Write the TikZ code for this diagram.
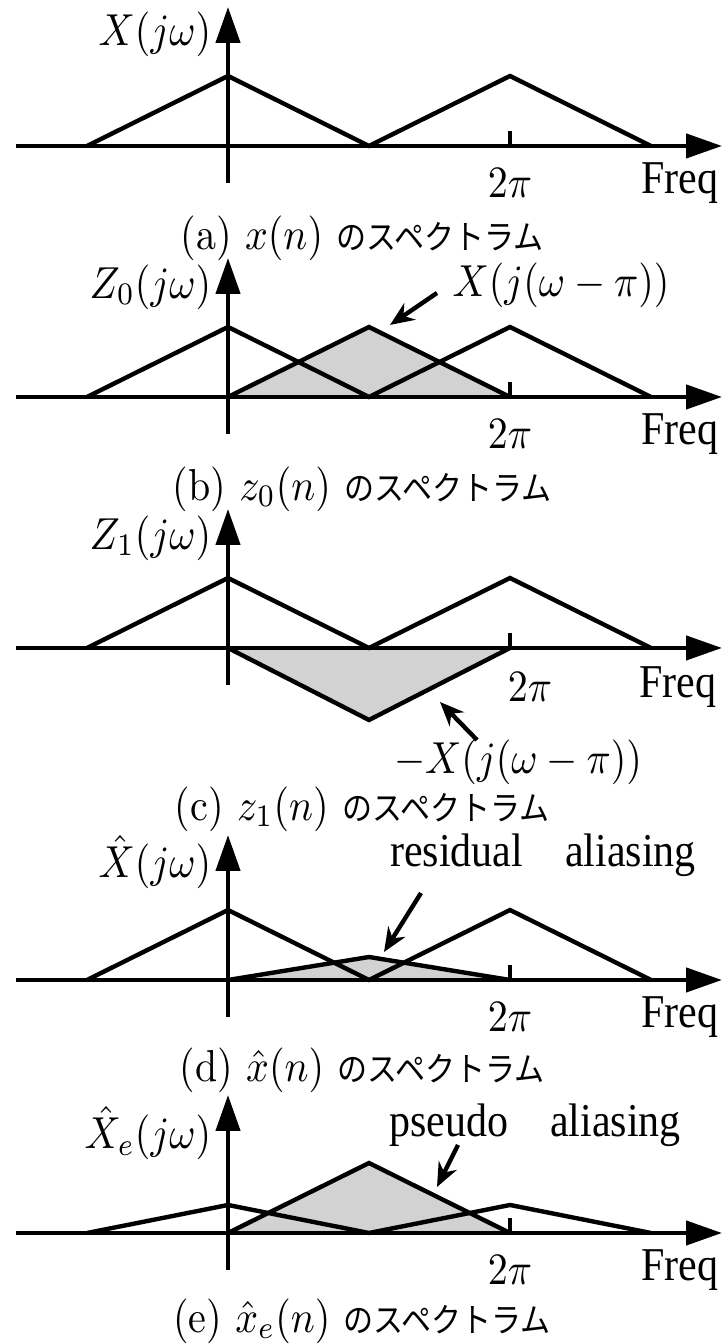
\documentclass[tikz,border=0pt]{standalone}
\usepackage{fontspec}
\usepackage{tikz}
\usetikzlibrary{arrows.meta}

\newfontfamily\timesfont{Liberation Serif}
\newfontfamily\jpfont{Noto Sans CJK JP}
\newcommand{\jp}[1]{{\jpfont\fontsize{7.5}{9}\selectfont #1}}

\begin{document}
\begin{tikzpicture}[x=0.25pt, y=0.25pt,
    curve/.style={line width=1.1pt, line join=miter},
    axis/.style={line width=1.1pt, -{Triangle[length=9pt, width=6pt]}},
    shade/.style={fill=gray!35},
    arr/.style={line width=1.1pt, -{Stealth[length=6pt, width=5pt]}},
    tall/.style={yscale=1.12},
    mlbl/.style={tall},
    ylbl/.style={tall, anchor=east, inner sep=0pt},
    lbl/.style={tall, font=\timesfont\fontsize{10.5}{12}\selectfont, inner sep=0pt},
    captext/.style={tall, inner sep=0pt},
  ]
  \useasboundingbox (0,0) rectangle (726,1344);

  % (a) spectrum of x(n)
  \begin{scope}[shift={(228,1198)}]
    \draw[axis] (-212,0) -- (494,0);
    \draw[axis] (0,-37) -- (0,139);
    \draw[curve] (282,0) -- (282,15);
    \draw[curve] (-141,0) -- (0,70) -- (141,0) -- (282,70) -- (423,0);
    \node[ylbl] (ya) at (-16,112) {$X(j\omega)$};
    \node[mlbl] (pia) at (282,-37) {$2\pi$};
    \node[lbl] (fa) at (452,-37) {Freq};
    \node[captext] (capa) at (134,-92) {(a) $x(n)$ \jp{のスペクトラム}};
  \end{scope}

  % (b) spectrum of z0(n)
  \begin{scope}[shift={(228,947)}]
    \fill[shade] (0,0) -- (141,70) -- (282,0) -- cycle;
    \draw[axis] (-212,0) -- (494,0);
    \draw[axis] (0,-37) -- (0,139);
    \draw[curve] (282,0) -- (282,15);
    \draw[curve] (-141,0) -- (0,70) -- (141,0) -- (282,70) -- (423,0);
    \draw[curve] (0,0) -- (141,70) -- (282,0);
    \node[ylbl] (yb) at (-16,110) {$Z_0(j\omega)$};
    \node[mlbl] (pib) at (282,-37) {$2\pi$};
    \node[lbl] (fb) at (452,-37) {Freq};
    \node[mlbl] (shiftb) at (333,112) {$X(j(\omega-\pi))$};
    \coordinate (tailb) at (209,104);
    \coordinate (tipb) at (162,72);
    \draw[arr] (tailb) -- (tipb);
    \node[captext] (capb) at (134,-92) {(b) $z_0(n)$ \jp{のスペクトラム}};
  \end{scope}

  % (c) spectrum of z1(n)
  \begin{scope}[shift={(228,696)}]
    \fill[shade] (0,0) -- (141,-72) -- (282,0) -- cycle;
    \draw[axis] (-212,0) -- (494,0);
    \draw[axis] (0,-37) -- (0,139);
    \draw[curve] (282,0) -- (282,15);
    \draw[curve] (-141,0) -- (0,70) -- (141,0) -- (282,70) -- (423,0);
    \draw[curve] (0,0) -- (141,-72) -- (282,0);
    \node[ylbl] (yc) at (-16,110) {$Z_1(j\omega)$};
    \node[mlbl] (pic) at (302,-39) {$2\pi$};
    \node[lbl] (fc) at (450,-39) {Freq};
    \node[mlbl] (shiftc) at (290,-114) {$-X(j(\omega-\pi))$};
    \coordinate (tailc) at (249,-92);
    \coordinate (tipc) at (212,-54);
    \draw[arr] (tailc) -- (tipc);
    \node[captext] (capc) at (134,-161) {(c) $z_1(n)$ \jp{のスペクトラム}};
  \end{scope}

  % (d) spectrum of reconstructed x(n)
  \begin{scope}[shift={(228,364)}]
    \fill[shade] (0,0) -- (141,23) -- (282,0) -- cycle;
    \draw[axis] (-212,0) -- (494,0);
    \draw[axis] (0,-37) -- (0,145);
    \draw[curve] (282,0) -- (282,15);
    \draw[curve] (-141,0) -- (0,70) -- (141,0) -- (282,70) -- (423,0);
    \draw[curve] (0,0) -- (141,23) -- (282,0);
    \node[ylbl] (yd) at (-16,118) {$\hat{X}(j\omega)$};
    \node[mlbl] (pid) at (282,-37) {$2\pi$};
    \node[lbl] (fd) at (452,-37) {Freq};
    \node[lbl] (resd) at (315,125) {residual\quad aliasing};
    \coordinate (taild) at (193,87);
    \coordinate (tipd) at (156,28);
    \draw[arr] (taild) -- (tipd);
    \node[captext] (capd) at (134,-90) {(d) $\hat{x}(n)$ \jp{のスペクトラム}};
  \end{scope}

  % (e) spectrum of enhanced x(n)
  \begin{scope}[shift={(228,111)}]
    \fill[shade] (0,0) -- (141,70) -- (282,0) -- cycle;
    \draw[axis] (-212,0) -- (494,0);
    \draw[axis] (0,-37) -- (0,138);
    \draw[curve] (282,0) -- (282,15);
    \draw[curve] (-141,0) -- (0,28) -- (141,0) -- (282,28) -- (423,0);
    \draw[curve] (0,0) -- (141,70) -- (282,0);
    \node[ylbl] (ye) at (-16,100) {$\hat{X}_e(j\omega)$};
    \node[mlbl] (pie) at (282,-37) {$2\pi$};
    \node[lbl] (fe) at (452,-37) {Freq};
    \node[lbl] (pseue) at (307,108) {pseudo\quad aliasing};
    \coordinate (taile) at (230,88);
    \coordinate (tipe) at (209,46);
    \draw[arr] (taile) -- (tipe);
    \node[captext] (cape) at (134,-88) {(e) $\hat{x}_e(n)$ \jp{のスペクトラム}};
  \end{scope}
\end{tikzpicture}
\end{document}
